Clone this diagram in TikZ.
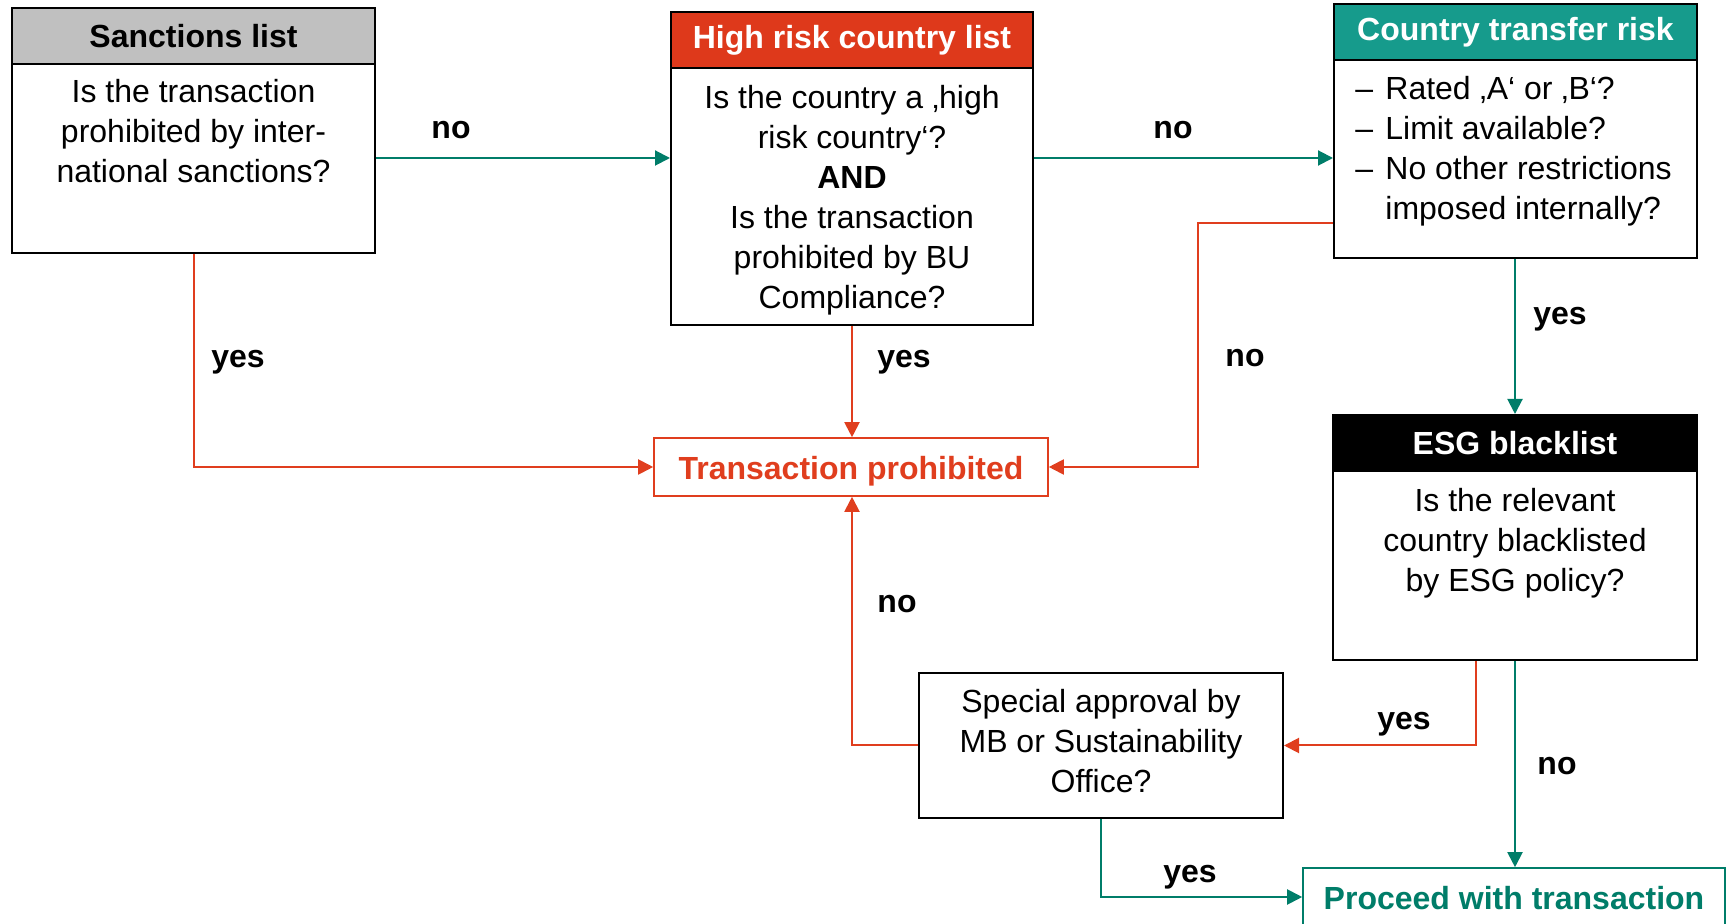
\documentclass[tikz,border=0pt]{standalone}
\usepackage{fontspec}
\setmainfont{Liberation Sans}
\usetikzlibrary{arrows.meta,calc}
\definecolor{redc}{RGB}{224,62,30}
\definecolor{hrhead}{RGB}{222,57,27}
\definecolor{ctrhead}{RGB}{22,155,140}
\definecolor{greenc}{RGB}{0,125,105}
\definecolor{greyhead}{RGB}{192,192,192}
\begin{document}
\begin{tikzpicture}[x=0.5pt,y=-0.5pt,
  every node/.style={font=\fontsize{16pt}{20pt}\selectfont},
  box/.style={draw=black, line width=1pt, inner sep=0pt, fill=white},
  hdr/.style={draw=black, line width=1pt, inner sep=0pt, anchor=north, minimum height=28pt, font=\fontsize{16pt}{20pt}\selectfont\bfseries},
  body/.style={align=center, inner sep=0pt},
  lbl/.style={font=\fontsize{16pt}{20pt}\selectfont\bfseries, inner sep=0pt},
  garrow/.style={draw=greenc, line width=1pt, -{Triangle[length=7.5pt,width=7.5pt]}},
  rarrow/.style={draw=redc, line width=1pt, -{Triangle[length=7.5pt,width=7.5pt]}},
  outbox/.style={line width=0.8pt, inner sep=0pt, fill=white, font=\fontsize{16pt}{20pt}\selectfont\bfseries}
]
\useasboundingbox (0,0) rectangle (1731,924);

% Sanctions list
\node[box, minimum width=181.5pt, minimum height=122.5pt] (sanct) at (193.5,130.5) {};
\node[hdr, fill=greyhead, text=black, minimum width=181.5pt] (sanctH) at (sanct.north) {Sanctions list};
\node[body] (sanctT) at (193.5,131) {Is the transaction\\prohibited by inter-\\national sanctions?};

% High risk country list
\node[box, minimum width=181pt, minimum height=156.5pt] (hr) at (852,168.5) {};
\node[hdr, fill=hrhead, text=white, minimum width=181pt] (hrH) at (hr.north) {High risk country list};
\node[body] (hrT) at (852,200) {Is the country a ‚high\\risk country‘?\\\textbf{AND}\\Is the transaction\\prohibited by BU\\Compliance?};

% Country transfer risk
\node[box, minimum width=181.5pt, minimum height=127pt] (ctr) at (1515.5,131) {};
\node[hdr, fill=ctrhead, text=white, minimum width=181.5pt] (ctrH) at (ctr.north) {Country transfer risk};
\node[align=left, inner sep=0pt, anchor=west] (ctrT) at (1355,151)
  {\makebox[15pt][l]{–}Rated ‚A‘ or ‚B‘?\\
   \makebox[15pt][l]{–}Limit available?\\
   \makebox[15pt][l]{–}No other restrictions\\
   \makebox[15pt][l]{}imposed internally?};

% ESG blacklist
\node[box, minimum width=182pt, minimum height=122.5pt] (esg) at (1515,537.5) {};
\node[hdr, fill=black, text=white, minimum width=182pt] (esgH) at (esg.north) {ESG blacklist};
\node[body] (esgT) at (1515,543) {Is the relevant\\country blacklisted\\by ESG policy?};

% Transaction prohibited
\node[outbox, draw=redc, minimum width=197pt, minimum height=29pt] (tp) at (851,467) {};
\node[inner sep=0pt, text=redc, font=\fontsize{16pt}{20pt}\selectfont\bfseries] (tpT) at (851,471) {Transaction prohibited};

% Special approval
\node[box, minimum width=182pt, minimum height=72.5pt] (spec) at (1101,745.5) {};
\node[body] (specT) at (1101,741) {Special approval by\\MB or Sustainability\\Office?};

% Proceed with transaction
\node[outbox, draw=greenc, minimum width=211pt, minimum height=31pt] (proc) at (1514,899) {};
\node[inner sep=0pt, text=greenc, font=\fontsize{16pt}{20pt}\selectfont\bfseries] (procT) at (1514,898) {Proceed with transaction};

% helper coordinates
\coordinate (r1) at (0,158);
\coordinate (r2) at (0,223);
\coordinate (c1) at (1198,0);
\coordinate (c2) at (1476,0);
\coordinate (r4) at (0,897);

% connectors
\draw[garrow] (sanct.east |- r1) -- (hr.west |- r1);
\draw[garrow] (hr.east |- r1) -- (ctr.west |- r1);
\draw[rarrow] (sanct.south) |- (tp.west);
\draw[rarrow] (hr.south) -- (hr.south |- tp.north);
\draw[rarrow] (ctr.west |- r2) -- (c1 |- r2) |- (tp.east);
\draw[garrow] (esg.north |- ctr.south) -- (esg.north);
\draw[rarrow] (esg.south -| c2) |- (spec.east);
\draw[garrow] (esg.south) -- (proc.north -| esg.south);
\draw[garrow] (spec.south) |- (proc.west |- r4);
\draw[rarrow] (spec.west) -| (hr.south |- tp.south);

% labels
\node[lbl, anchor=base] (l1) at (451,139) {no};
\node[lbl, anchor=base] (l2) at (1173,139) {no};
\node[lbl, anchor=base] (l3) at (238,368) {yes};
\node[lbl, anchor=base] (l4) at (904,368) {yes};
\node[lbl, anchor=base] (l5) at (1245,367) {no};
\node[lbl, anchor=base] (l6) at (1560,325) {yes};
\node[lbl, anchor=base] (l7) at (897,613) {no};
\node[lbl, anchor=base] (l8) at (1404,730) {yes};
\node[lbl, anchor=base] (l9) at (1557,775) {no};
\node[lbl, anchor=base] (l10) at (1190,883) {yes};
\end{tikzpicture}
\end{document}
